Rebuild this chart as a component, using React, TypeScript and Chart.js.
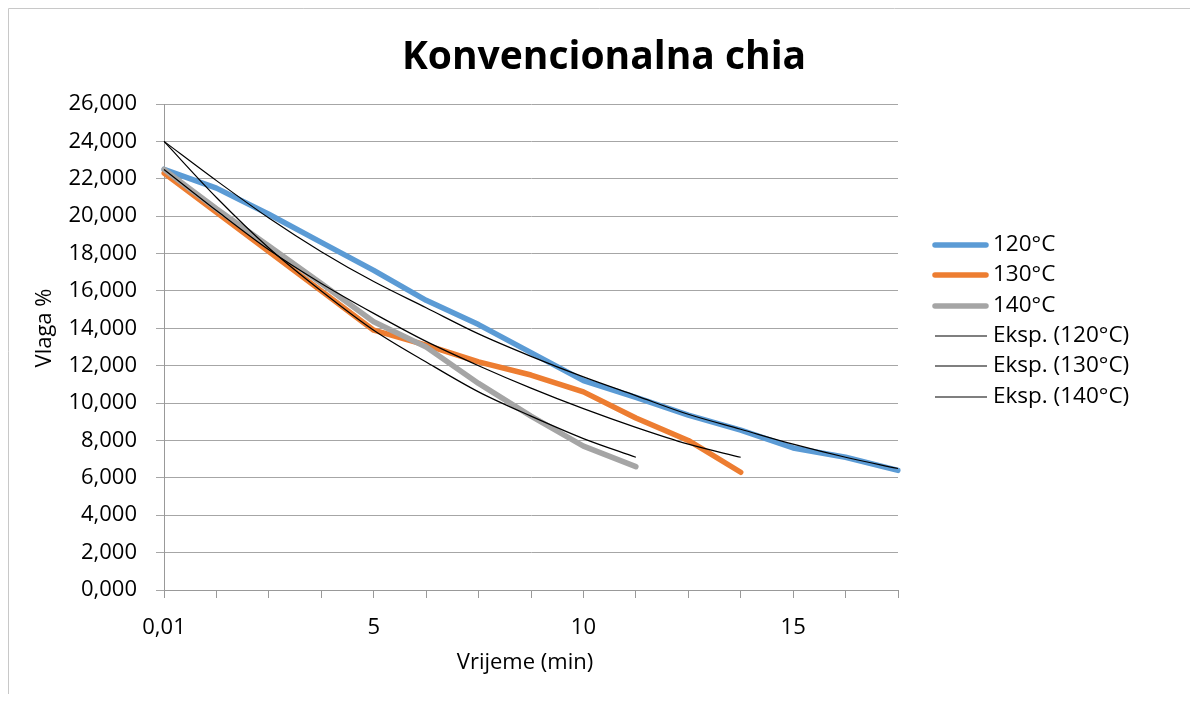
import React, { useEffect, useRef } from "react";
import { Chart, registerables } from "chart.js";

Chart.register(...registerables);

const timeLabels = ["0,01", "1,25", "2,5", "3,75", "5", "6,25", "7,5", "8,75", "10", "11,25", "12,5", "13,75", "15", "16,25", "17,5"];
const moisture120 = [22.5, 21.5, 20.1, 18.6, 17.1, 15.5, 14.2, 12.7, 11.2, 10.3, 9.35, 8.55, 7.6, 7.1, 6.4];
const moisture130 = [22.3, 20.2, 18.1, 16.0, 13.9, 13.1, 12.2, 11.5, 10.6, 9.2, 8.0, 6.3];
const moisture140 = [22.5, 20.4, 18.4, 16.4, 14.35, 13.0, 11.05, 9.3, 7.7, 6.6];
const trend120 = [24.0, 21.9, 19.9, 18.1, 16.5, 15.1, 13.7, 12.5, 11.4, 10.4, 9.4, 8.6, 7.8, 7.1, 6.5];
const trend130 = [22.5, 20.3, 18.2, 16.4, 14.8, 13.3, 12.0, 10.8, 9.7, 8.7, 7.8, 7.1];
const trend140 = [24.0, 21.0, 18.3, 16.0, 13.9, 12.2, 10.6, 9.3, 8.1, 7.1];

const seriesNames = ["120°C", "130°C", "140°C"];
const trendNames = ["Eksp. (120°C)", "Eksp. (130°C)", "Eksp. (140°C)"];
const seriesColors = ["#5b9bd5", "#ed7d31", "#a5a5a5"];
const titleText = "Konvencionalna chia";
const xTitle = "Vrijeme (min)";
const yTitle = "Vlaga %";

const FONT = "'Open Sans', 'Liberation Sans', sans-serif";
const W = 1182;
const H = 686;

export default function App() {
  const ref = useRef<HTMLCanvasElement | null>(null);

  useEffect(() => {
    if (!ref.current) return;
    const decor = {
      id: "decor",
      afterDraw(chart: any) {
        const ctx = chart.ctx;
        ctx.save();
        // border (left and top visible)
        ctx.strokeStyle = "#c8c8c8";
        ctx.lineWidth = 1;
        ctx.beginPath();
        ctx.moveTo(0.5, H);
        ctx.lineTo(0.5, 0.5);
        ctx.lineTo(W, 0.5);
        ctx.stroke();
        // title
        ctx.fillStyle = "#000";
        ctx.textAlign = "center";
        ctx.textBaseline = "middle";
        ctx.font = `bold 39px ${FONT}`;
        ctx.fillText(titleText, 596, 50);
        // x title
        ctx.font = `22px ${FONT}`;
        ctx.fillText(xTitle, 517, 655);
        // y title
        ctx.save();
        ctx.translate(37, 320);
        ctx.rotate(-Math.PI / 2);
        ctx.fillText(yTitle, 0, 0);
        ctx.restore();
        // legend
        const rows = [237, 267, 298, 328, 358, 389];
        ctx.textAlign = "left";
        ctx.font = `22.5px ${FONT}`;
        for (let i = 0; i < 3; i++) {
          ctx.strokeStyle = seriesColors[i];
          ctx.lineWidth = 5.5;
          ctx.lineCap = "round";
          ctx.beginPath();
          ctx.moveTo(927, rows[i]);
          ctx.lineTo(978, rows[i]);
          ctx.stroke();
          ctx.fillText(seriesNames[i], 985, rows[i]);
        }
        for (let i = 0; i < 3; i++) {
          ctx.strokeStyle = "#000";
          ctx.lineWidth = 1.2;
          ctx.lineCap = "butt";
          ctx.beginPath();
          ctx.moveTo(927, rows[i + 3]);
          ctx.lineTo(979, rows[i + 3]);
          ctx.stroke();
          ctx.fillText(trendNames[i], 985, rows[i + 3]);
        }
        ctx.restore();
      },
    };

    const dataLine = (label: string, data: number[], color: string, order: number) => ({
      label,
      data,
      borderColor: color,
      backgroundColor: color,
      borderWidth: 5.5,
      pointRadius: 0,
      tension: 0,
      borderCapStyle: "round",
      borderJoinStyle: "round",
      order,
    });
    const trendLine = (label: string, data: number[]) => ({
      label,
      data,
      borderColor: "#000",
      backgroundColor: "#000",
      borderWidth: 1.2,
      pointRadius: 0,
      cubicInterpolationMode: "monotone",
      order: 0,
    });

    const chart = new Chart(ref.current, {
      type: "line",
      data: {
        labels: timeLabels,
        datasets: [
          dataLine(seriesNames[0], moisture120, seriesColors[0], 3),
          dataLine(seriesNames[1], moisture130, seriesColors[1], 2),
          dataLine(seriesNames[2], moisture140, seriesColors[2], 1),
          trendLine(trendNames[0], trend120),
          trendLine(trendNames[1], trend130),
          trendLine(trendNames[2], trend140),
        ] as any,
      },
      options: {
        animation: false,
        responsive: false,
        devicePixelRatio: 1,
        layout: { padding: { left: 0, right: 292, top: 96, bottom: 0 } },
        plugins: {
          legend: { display: false },
          title: { display: false },
          tooltip: { enabled: false },
        },
        scales: {
          x: {
            type: "category",
            offset: false,
            grid: { drawOnChartArea: false, drawTicks: true, tickLength: 8, color: "#999" },
            border: { display: true, color: "#999", width: 1 },
            ticks: {
              autoSkip: false,
              maxRotation: 0,
              minRotation: 0,
              padding: 17,
              color: "#000",
              font: { family: FONT, size: 22 },
              callback: (_v: any, i: number) => (i % 4 === 0 ? timeLabels[i] : ""),
            },
            afterFit: (s: any) => {
              s.height = 104;
            },
          },
          y: {
            min: 0,
            max: 26,
            grid: { color: "#a6a6a6", tickLength: 8, drawTicks: true },
            border: { display: true, color: "#999", width: 1 },
            ticks: {
              stepSize: 2,
              padding: 19,
              color: "#000",
              font: { family: FONT, size: 22 },
              callback: (v: any) => Number(v).toFixed(3).replace(".", ","),
            },
            afterFit: (s: any) => {
              s.width = 156;
            },
          },
        },
      } as any,
      plugins: [decor],
    });
    return () => chart.destroy();
  }, []);

  return (
    <canvas ref={ref} width={W} height={H} style={{ display: "block", width: W, height: H }} />
  );
}
